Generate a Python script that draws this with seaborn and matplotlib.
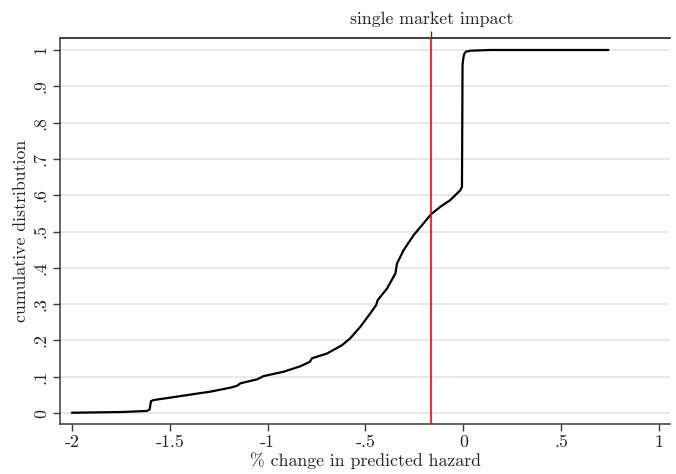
import numpy as np
import pandas as pd
import matplotlib
matplotlib.use("Agg")
import matplotlib.pyplot as plt
import seaborn as sns

# CDF of % change in predicted hazard
pct_change = [-2.0, -1.744, -1.616, -1.603, -1.596, -1.582, -1.506, -1.395, -1.293,
              -1.191, -1.157, -1.139, -1.054, -1.020, -0.918, -0.833, -0.785, -0.773,
              -0.697, -0.620, -0.578, -0.526, -0.475, -0.445, -0.438, -0.390, -0.347,
              -0.339, -0.305, -0.254, -0.203, -0.164, -0.118, -0.066, -0.015, -0.007,
              -0.004, 0.000, 0.004, 0.012, 0.036, 0.138, 0.741]
cum_dist = [0.001, 0.003, 0.006, 0.010, 0.033, 0.036, 0.042, 0.051, 0.059,
            0.070, 0.075, 0.082, 0.093, 0.102, 0.114, 0.129, 0.141, 0.151,
            0.164, 0.187, 0.206, 0.238, 0.275, 0.298, 0.311, 0.343, 0.385,
            0.412, 0.449, 0.490, 0.523, 0.548, 0.568, 0.587, 0.614, 0.623,
            0.960, 0.978, 0.988, 0.995, 0.998, 1.000, 1.000]
impact_x = -0.164
impact_label = "single market impact"
x_ticks = [-2, -1.5, -1, -0.5, 0, 0.5, 1]
x_tick_labels = ["-2", "-1.5", "-1", "-.5", "0", ".5", "1"]
y_ticks = [0, 0.1, 0.2, 0.3, 0.4, 0.5, 0.6, 0.7, 0.8, 0.9, 1.0]
y_tick_labels = ["0", ".1", ".2", ".3", ".4", ".5", ".6", ".7", ".8", ".9", "1"]

sns.set_theme(style="white")
plt.rcParams['font.family'] = ['cmr10', 'DejaVu Serif']
plt.rcParams['axes.unicode_minus'] = False

df = pd.DataFrame({"x": pct_change, "y": cum_dist})

fig = plt.figure(figsize=(6.76, 4.74), dpi=100)
ax = fig.add_axes([60/676, 1-424/474, 610/676, 386/474])

for yv in y_ticks:
    ax.axhline(yv, color="#e6e6e6", lw=1.3, zorder=0)

sns.lineplot(data=df, x="x", y="y", sort=False, estimator=None, color="black",
             lw=1.6, ax=ax, zorder=3)
ax.axvline(impact_x, color="#ff0000", lw=1.2, zorder=4)

fs = 12.8
ax.set_xlim(-2.061, 1.056)
ax.set_ylim(-0.030, 1.033)
ax.set_xticks(x_ticks)
ax.set_xticklabels(x_tick_labels)
ax.set_yticks(y_ticks)
ax.set_yticklabels(y_tick_labels, rotation=90, va="center")
spine_c = "#3a3a3a"
for s in ["left", "bottom", "top"]:
    ax.spines[s].set_color(spine_c)
    ax.spines[s].set_linewidth(1.1)
ax.spines["right"].set_visible(False)
ax.tick_params(axis="both", which="major", direction="out", length=5, width=1,
               color=spine_c, labelsize=fs, labelcolor="#222222", pad=3)
ax.tick_params(axis="x", bottom=True, top=False)
ax.tick_params(axis="y", left=True)
ax.set_xlabel("% change in predicted hazard", fontsize=fs, color="#222222", labelpad=1)
ax.set_ylabel("cumulative distribution", fontsize=fs, color="#222222", labelpad=3)

top = ax.secondary_xaxis("top")
top.set_xticks([impact_x])
top.set_xticklabels([impact_label])
top.tick_params(direction="out", length=5, width=1, color=spine_c, labelsize=fs,
                labelcolor="#222222", pad=3)
top.spines["top"].set_color(spine_c)
top.spines["top"].set_linewidth(1.1)

fig.savefig("out.png", dpi=100)
